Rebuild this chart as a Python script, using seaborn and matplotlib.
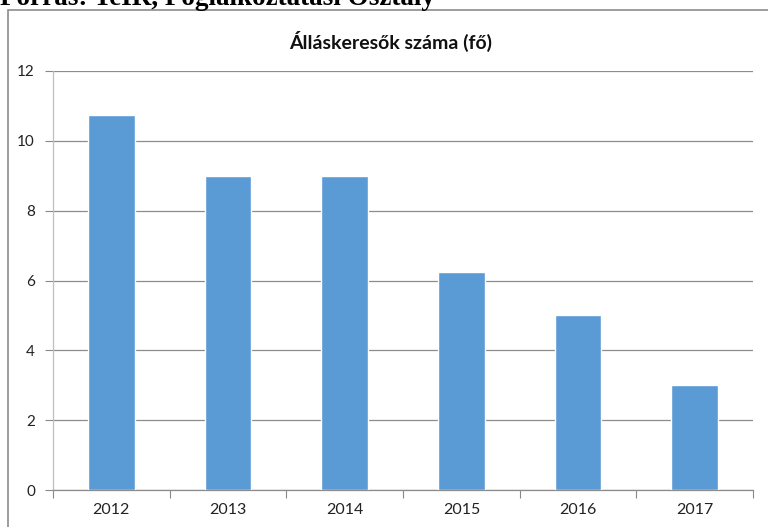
import matplotlib
matplotlib.use("Agg")
import matplotlib.pyplot as plt
import seaborn as sns
import pandas as pd
from matplotlib.patches import Rectangle
from matplotlib.ticker import FixedLocator

years = ["2012", "2013", "2014", "2015", "2016", "2017"]
values = [10.75, 9, 9, 6.25, 5, 3]
title = "Álláskeresők száma (fő)"
header = "Forrás: TeIR, Foglalkoztatási Osztály"
yticks = [0, 2, 4, 6, 8, 10, 12]

sns.set_theme(style="white")
plt.rcParams['font.family'] = ['Lato', 'DejaVu Sans']

df = pd.DataFrame({"year": years, "value": values})

fig = plt.figure(figsize=(7.68, 5.27), dpi=100)
W, H = 768, 527
ax = fig.add_axes([53 / W, 1 - 490 / H, (753 - 53) / W, (490 - 71) / H])

sns.barplot(data=df, x="year", y="value", color="#5B9BD5", saturation=1,
            width=0.4, ax=ax, zorder=3)

ax.set_ylim(0, 12)
ax.set_xlim(-0.5, len(years) - 0.5)
ax.set_yticks(yticks)
ax.set_yticklabels([str(t) for t in yticks], fontsize=11, color="#222222")
ax.set_xlabel("")
ax.set_ylabel("")
ax.tick_params(axis="x", labelsize=11.5, labelcolor="#222222", length=0, pad=9)
ax.tick_params(axis="y", length=6, width=0.8, color="#888888", pad=7, direction="out", left=True)
ax.yaxis.grid(True, color="#8c8c8c", linewidth=0.9, zorder=0)
ax.set_axisbelow(True)

# category boundary ticks on x-axis (Excel style)
ax.xaxis.set_minor_locator(FixedLocator([i - 0.5 for i in range(len(years) + 1)]))
ax.tick_params(axis="x", which="minor", length=6, width=0.8, color="#888888", bottom=True, direction="out")

for s in ["top", "right"]:
    ax.spines[s].set_visible(False)
ax.spines["left"].set_color("#bfbfbf")
ax.spines["left"].set_linewidth(0.9)
ax.spines["bottom"].set_color("#8c8c8c")
ax.spines["bottom"].set_linewidth(0.9)

fig.text(391 / W, 1 - 41 / H, title, ha="center", va="center",
         fontsize=14, fontweight="bold", color="#111111")

# outer chart frame (clipped by the page)
fig.patches.append(Rectangle((8 / W, -0.05), 1.2, 1 - 10 / H + 0.05,
                             transform=fig.transFigure, fill=False,
                             edgecolor="#8c8c8c", linewidth=1.2, zorder=0))

# clipped document header above the chart
fig.text(0 / W, 1 - 5 / H, header, ha="left", va="baseline",
         fontsize=19.5, fontweight="bold", family=["Liberation Serif", "DejaVu Serif"],
         color="black")

fig.savefig("out.png", dpi=100)
